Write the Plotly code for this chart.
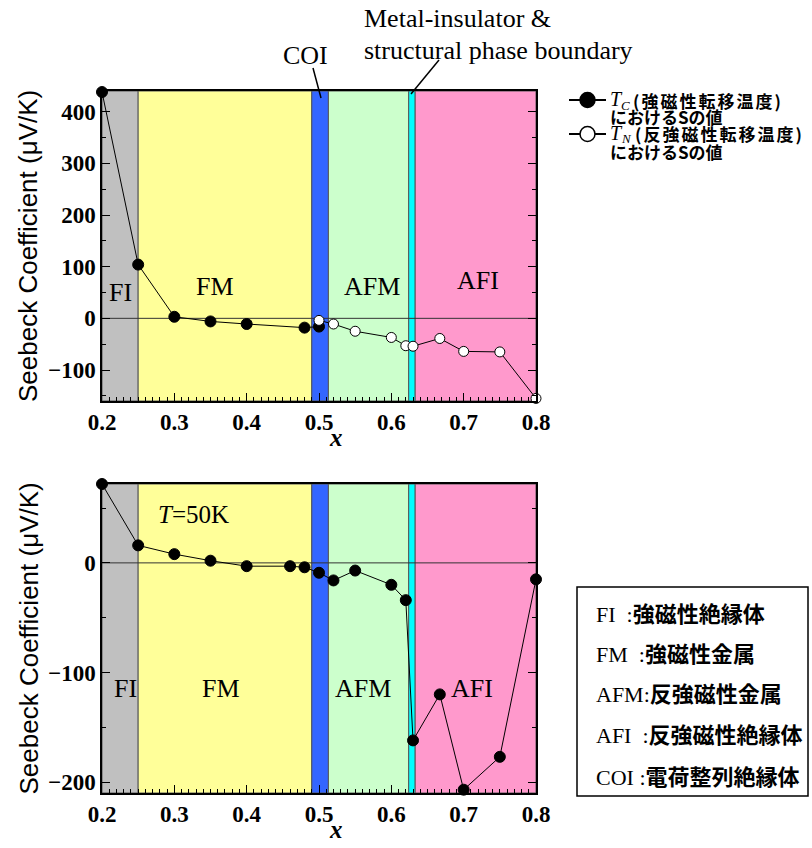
import plotly.graph_objects as go

W, H = 812, 848

# Phase bands along x (boundaries) and their fill colors
phase_edges = [0.2, 0.25, 0.49, 0.513, 0.624, 0.633, 0.8]
phase_colors = ["#c0c0c0", "#ffff99", "#3366ff", "#ccffcc", "#00ffff", "#ff99cc"]

# Seebeck coefficient (uV/K) at Tc (ferromagnetic transition)
x_tc = [0.2, 0.25, 0.3, 0.35, 0.4, 0.48, 0.5]
s_tc = [438, 104, 3, -6, -11, -18, -16]

# Seebeck coefficient (uV/K) at TN (antiferromagnetic transition)
x_tn = [0.5, 0.52, 0.55, 0.6, 0.62, 0.63, 0.667, 0.7, 0.75, 0.8]
s_tn = [-4, -11, -25, -37, -53, -54, -39, -64, -65, -155]

# Seebeck coefficient (uV/K) at T = 50 K
x_50 = [0.2, 0.25, 0.3, 0.35, 0.4, 0.46, 0.48, 0.5, 0.52, 0.55, 0.6, 0.62, 0.63, 0.667, 0.7, 0.75, 0.8]
s_50 = [72, 16, 8, 2, -3, -3, -4, -9, -16, -7, -20, -34, -162, -120, -207, -177, -15]

top_ticks = [-100, 0, 100, 200, 300, 400]
bottom_ticks = [-200, -100, 0]
x_ticks = [0.2, 0.3, 0.4, 0.5, 0.6, 0.7, 0.8]

SERIF = "Liberation Serif, Times New Roman, serif"
SANS = "Liberation Sans, Arial, sans-serif"
JP = "Noto Sans CJK JP"


def px(x):
    return x / W


def py(y):
    return 1 - y / H


fig = go.Figure()

# plot boxes in pixels: left, right, top, bottom
L, R = 102, 536
TOP = (91, 401)
BOT = (484, 793)

line_style = dict(color="black", width=1)

fig.add_trace(go.Scatter(x=x_tc, y=s_tc, mode="lines+markers", xaxis="x", yaxis="y",
                         line=line_style, cliponaxis=False,
                         marker=dict(size=11, color="black", line=dict(color="black", width=1)),
                         showlegend=False))
fig.add_trace(go.Scatter(x=x_tn, y=s_tn, mode="lines+markers", xaxis="x", yaxis="y",
                         line=line_style, cliponaxis=False,
                         marker=dict(size=10, color="white", line=dict(color="black", width=1)),
                         showlegend=False))
fig.add_trace(go.Scatter(x=x_50, y=s_50, mode="lines+markers", xaxis="x2", yaxis="y2",
                         line=line_style, cliponaxis=False,
                         marker=dict(size=11, color="black", line=dict(color="black", width=1)),
                         showlegend=False))

shapes = []
for xr, yr in (("x", "y"), ("x2", "y2")):
    for i, c in enumerate(phase_colors):
        shapes.append(dict(type="rect", xref=xr, yref=yr + " domain",
                           x0=phase_edges[i], x1=phase_edges[i + 1], y0=0, y1=1,
                           fillcolor=c, line=dict(color="#555555", width=1), layer="below"))
    # zero reference line
    shapes.append(dict(type="line", xref=xr + " domain", yref=yr, x0=0, x1=1, y0=0, y1=0,
                       line=dict(color="#333333", width=1), layer="below"))

# pointer lines for the boundary labels above the top panel
shapes.append(dict(type="line", xref="paper", yref="paper", x0=px(313), y0=py(68),
                   x1=px(321), y1=py(98), line=dict(color="black", width=1.5)))
shapes.append(dict(type="line", xref="paper", yref="paper", x0=px(439), y0=py(60),
                   x1=px(411), y1=py(94), line=dict(color="black", width=1.5)))

# legend keys
for yk, fill in ((100, "black"), (134, "white")):
    shapes.append(dict(type="line", xref="paper", yref="paper", x0=px(569), x1=px(606),
                       y0=py(yk), y1=py(yk), line=dict(color="black", width=2)))
    shapes.append(dict(type="circle", xref="paper", yref="paper", x0=px(580), x1=px(595),
                       y0=py(yk + 7.5), y1=py(yk - 7.5), fillcolor=fill,
                       line=dict(color="black", width=1.5)))

# definitions box
shapes.append(dict(type="rect", xref="paper", yref="paper", x0=px(577), x1=px(808),
                   y0=py(796), y1=py(587), line=dict(color="black", width=1.5),
                   fillcolor="white"))

annotations = []


def txt(x, y, s, size, xref="paper", yref="paper", xanchor="center", family=SERIF,
        yanchor="middle", **kw):
    annotations.append(dict(x=x, y=y, xref=xref, yref=yref, text=s, showarrow=False,
                            xanchor=xanchor, yanchor=yanchor,
                            font=dict(family=family, size=size, color="black"), **kw))


# phase labels
for s, x, y in (("FI", 0.225, 50), ("FM", 0.356, 62), ("AFM", 0.573, 62), ("AFI", 0.72, 73)):
    txt(x, y, s, 26, xref="x", yref="y")
for s, x, y in (("FI", 0.232, -115), ("FM", 0.364, -115), ("AFM", 0.561, -115), ("AFI", 0.712, -115)):
    txt(x, y, s, 26, xref="x2", yref="y2")
txt(0.326, 44, "<i>T</i>=50K", 25, xref="x2", yref="y2")

# labels above the top panel
txt(px(305), py(56), "COI", 26)
txt(px(362), py(19), "Metal-insulator &amp;", 26, xanchor="left")
txt(px(362), py(51), "structural phase boundary", 26, xanchor="left")

# axis titles
for yc in ((TOP[0] + TOP[1]) / 2, (BOT[0] + BOT[1]) / 2):
    txt(px(28), py(yc), "Seebeck Coefficient (μV/K)", 26, family=SANS, textangle=-90)
txt(px(336), py(437), "<b><i>x</i></b>", 25)
txt(px(336), py(829), "<b><i>x</i></b>", 25)


def jp(s, spacing=0):
    return ("<span style='font-family:%s;letter-spacing:%dpx'><b>%s</b></span>"
            % (JP, spacing, s))


# legend text: T with subscript, then the Japanese description
for yk, sub, sub_w, desc in ((100, "C", 11, "(強磁性転移温度)"), (134, "N", 13, "(反強磁性転移温度)")):
    txt(px(608), py(yk - 1), "<i>T</i>", 20, xanchor="left")
    txt(px(619), py(yk + 5), "<i>%s</i>" % sub, 13, xanchor="left")
    txt(px(619 + sub_w + 1), py(yk), jp(desc, 2), 17, xanchor="left")
    txt(px(608), py(yk + 17), jp("におけるSの値"), 17, xanchor="left")

# definitions
defs = [("FI&nbsp;&nbsp;:", "強磁性絶縁体", 612), ("FM&nbsp;&nbsp;:", "強磁性金属", 652),
        ("AFM:", "反強磁性金属", 692), ("AFI&nbsp;&nbsp;:", "反強磁性絶縁体", 733),
        ("COI&nbsp;:", "電荷整列絶縁体", 775)]
for a, b, yy in defs:
    txt(px(594), py(yy), a + jp(b), 22, xanchor="left")

tickfont = dict(family=SERIF, size=23, color="black", weight="bold")
xaxis_common = dict(range=[0.2, 0.8], tickvals=x_ticks, ticktext=["%.1f" % v for v in x_ticks],
                    ticks="inside", ticklen=8, tickwidth=1, tickcolor="black",
                    minor=dict(dtick=0.01, ticks="inside", ticklen=4, tickcolor="black", tick0=0.2),
                    showline=True, linecolor="black", linewidth=1.5, mirror=True,
                    showgrid=False, zeroline=False, tickfont=tickfont, automargin=False,
                    domain=[px(L), px(R)])
yaxis_common = dict(ticks="inside", ticklen=8, tickwidth=1, tickcolor="black",
                    showline=True, linecolor="black", linewidth=1.5, mirror="ticks",
                    showgrid=False, zeroline=False, tickfont=tickfont, automargin=False)

fig.update_layout(
    width=W, height=H, margin=dict(l=0, r=0, t=0, b=0, autoexpand=False),
    paper_bgcolor="white", plot_bgcolor="white", showlegend=False,
    xaxis=dict(anchor="y", **xaxis_common),
    xaxis2=dict(anchor="y2", **xaxis_common),
    yaxis=dict(anchor="x", range=[-160, 440], tickvals=top_ticks,
               minor=dict(dtick=50, ticks="inside", ticklen=4, tickcolor="black"),
               domain=[py(TOP[1]), py(TOP[0])], **yaxis_common),
    yaxis2=dict(anchor="y2", range=[-210, 72], tickvals=bottom_ticks,
                minor=dict(dtick=50, ticks="inside", ticklen=4, tickcolor="black"),
                domain=[py(BOT[1]), py(BOT[0])], **yaxis_common),
    shapes=shapes, annotations=annotations,
)

fig.write_html("out.html")
